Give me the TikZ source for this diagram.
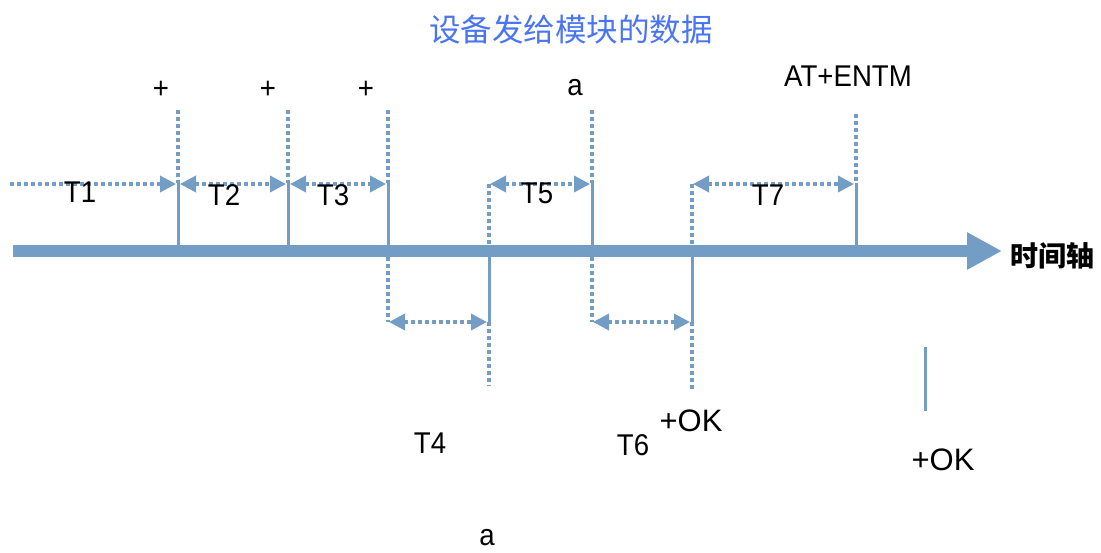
\documentclass[tikz,border=0pt]{standalone}
\usepackage{fontspec}
\setmainfont{Liberation Sans}
\newfontfamily\narrow[FakeStretch=0.92]{Liberation Sans}
\newfontfamily\cjk{Noto Sans CJK SC}
\usetikzlibrary{arrows.meta}
\definecolor{axc}{RGB}{115,157,196}
\definecolor{titc}{RGB}{74,117,240}
\tikzset{
  ax/.style={line width=12pt, draw=axc, -{Triangle[length=35pt,width=35pt]}},
  tick/.style={line width=3pt, draw=axc},
  dots/.style={line width=3.5pt, draw=axc, dash pattern=on 3.5pt off 3.5pt},
  dim/.style={dots, {Triangle[length=16pt,width=16pt]}-{Triangle[length=16pt,width=16pt]}},
  dimr/.style={dots, -{Triangle[length=16pt,width=16pt]}},
  lbl/.style={font=\narrow\fontsize{30}{32}\selectfont, inner sep=0pt},
  big/.style={font=\fontsize{31}{33}\selectfont, inner sep=0pt},
}
\begin{document}
\begin{tikzpicture}[x=1pt,y=-1pt]
\useasboundingbox (0,0) rectangle (1101,552);
% title
\node[inner sep=0pt, text=titc, font=\cjk\fontsize{31.5}{33}\selectfont] (title) at (571,30) {设备发给模块的数据};
% axis
\coordinate (a0) at (13,251);
\coordinate (a1) at (1002,251);
\draw[ax] (a0) -- (a1);
\node[inner sep=0pt, font=\cjk\bfseries\fontsize{28}{30}\selectfont] (axl) at (1052,256) {时间轴};
% tick 1
\coordinate (k1t) at (178,110); \coordinate (k1m) at (178,183); \coordinate (k1a) at (178,245);
\draw[dots] (k1t) -- (k1m); \draw[tick] (k1m) -- (k1a);
% tick 2
\coordinate (k2t) at (288,110); \coordinate (k2m) at (288,183); \coordinate (k2a) at (288,245);
\draw[dots] (k2t) -- (k2m); \draw[tick] (k2m) -- (k2a);
% tick 3
\coordinate (k3t) at (388,110); \coordinate (k3m) at (388,183); \coordinate (k3a) at (388,245);
\coordinate (k3b) at (388,257); \coordinate (k3d) at (388,322);
\draw[dots] (k3t) -- (k3m); \draw[tick] (k3m) -- (k3a);
\draw[dots] (k3b) -- (k3d);
% tick 4 (489)
\coordinate (k4m) at (489,184); \coordinate (k4a) at (489,245);
\coordinate (k4b) at (489,257); \coordinate (k4d) at (489,322); \coordinate (k4e) at (489,386);
\draw[dots] (k4m) -- (k4a);
\draw[tick] (k4b) -- (k4d); \draw[dots] (k4d) -- (k4e);
% tick 5 (592)
\coordinate (k5t) at (592,110); \coordinate (k5m) at (592,183); \coordinate (k5a) at (592,245);
\coordinate (k5b) at (592,257); \coordinate (k5d) at (592,322);
\draw[dots] (k5t) -- (k5m); \draw[tick] (k5m) -- (k5a);
\draw[dots] (k5b) -- (k5d);
% tick 6 (692)
\coordinate (k6m) at (692,184); \coordinate (k6a) at (692,245);
\coordinate (k6b) at (692,257); \coordinate (k6d) at (692,322); \coordinate (k6e) at (692,392);
\draw[dots] (k6m) -- (k6a);
\draw[tick] (k6b) -- (k6d); \draw[dots] (k6d) -- (k6e);
% tick 7 (856)
\coordinate (k7t) at (856,114); \coordinate (k7m) at (856,183); \coordinate (k7a) at (856,245);
\draw[dots] (k7t) -- (k7m); \draw[tick] (k7m) -- (k7a);
% isolated line
\coordinate (k8t) at (925,347); \coordinate (k8b) at (925,411);
\draw[tick] (k8t) -- (k8b);
% dimension arrows
\coordinate (d0) at (10,184);
\coordinate (d1) at (176,184); \coordinate (d2a) at (180,184); \coordinate (d2b) at (286,184);
\coordinate (d3a) at (290,184); \coordinate (d3b) at (386,184);
\coordinate (d5a) at (490,184); \coordinate (d5b) at (590,184);
\coordinate (d7a) at (693,184); \coordinate (d7b) at (854,184);
\coordinate (d4a) at (389,322); \coordinate (d4b) at (487,322);
\coordinate (d6a) at (593,322); \coordinate (d6b) at (690,322);
\draw[dimr] (d0) -- (d1);
\draw[dim] (d2a) -- (d2b);
\draw[dim] (d3a) -- (d3b);
\draw[dim] (d5a) -- (d5b);
\draw[dim] (d7a) -- (d7b);
\draw[dim] (d4a) -- (d4b);
\draw[dim] (d6a) -- (d6b);
% labels
\node[lbl] (t1) at (80,192) {T1};
\node[lbl] (t2) at (224,195) {T2};
\node[lbl] (t3) at (333,195) {T3};
\node[lbl] (t5) at (537,193) {T5};
\node[lbl] (t7) at (768,195) {T7};
\node[lbl] (t4) at (430,443) {T4};
\node[lbl] (t6) at (633,445) {T6};
\node[lbl] (p1) at (161,90) {+};
\node[lbl] (p2) at (268,90) {+};
\node[lbl] (p3) at (366,90) {+};
\node[lbl] (la) at (575,88) {a};
\node[lbl] (lb) at (487,538) {a};
\node[lbl] (entm) at (848,76) {AT+ENTM};
\node[big] (ok1) at (691,421) {+OK};
\node[big] (ok2) at (943,460) {+OK};
\end{tikzpicture}
\end{document}
